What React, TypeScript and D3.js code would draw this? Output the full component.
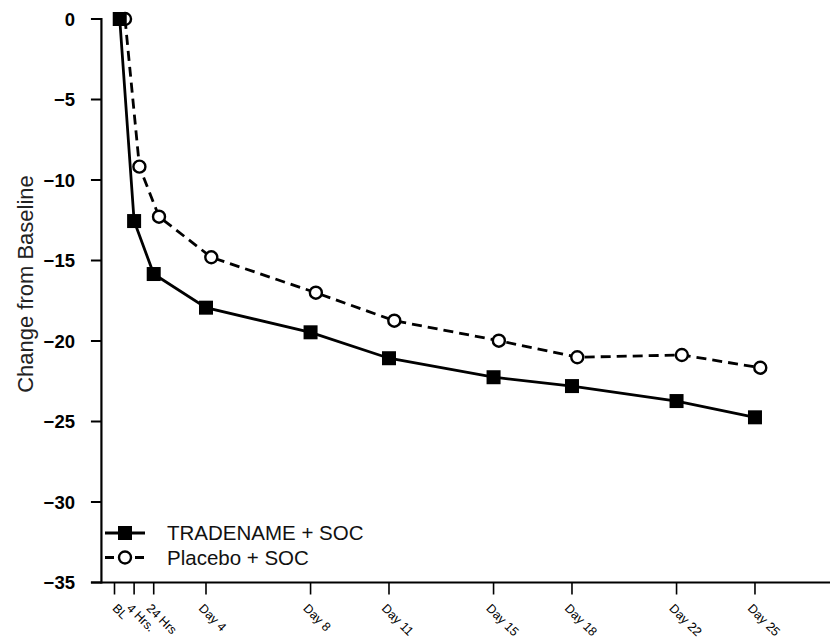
import React from "react";
import * as d3 from "d3";

const timeLabels = ["BL", "4 Hrs.", "24 Hrs", "Day 4", "Day 8", "Day 11", "Day 15", "Day 18", "Day 22", "Day 25"];
const timeX = [0.7, 1.25, 2, 4, 8, 11, 15, 18, 22, 25];
const tickX = [0.5, 1.25, 2, 4, 8, 11, 15, 18, 22, 25];
const tradename = [0, -12.55, -15.84, -17.93, -19.46, -21.07, -22.25, -22.8, -23.73, -24.74];
const placebo = [0, -9.17, -12.28, -14.8, -17.0, -18.74, -19.98, -21.01, -20.87, -21.66];
const yTicks = [0, -5, -10, -15, -20, -25, -30, -35];
const seriesNames = ["TRADENAME + SOC", "Placebo + SOC"];

const W = 830;
const H = 640;
const FONT = "'Liberation Sans', Arial, Helvetica, sans-serif";

export default function App() {
  React.useEffect(() => {
    document.body.style.margin = "0";
  }, []);

  const x = d3.scaleLinear().domain([0, 28]).range([101.43, 833.4]);
  const y = d3.scaleLinear().domain([-35, 0]).range([582.5, 19]);
  const fmt = d3.format("d");
  const circOff = 5.3;

  const lineT = d3
    .line<number>()
    .x((_, i) => x(timeX[i]))
    .y((d) => y(d));
  const lineP = d3
    .line<number>()
    .x((_, i) => x(timeX[i]) + circOff)
    .y((d) => y(d));

  const axisX = x(0);
  const axisY = y(-35);

  return (
    <svg width={W} height={H} style={{ display: "block", background: "#fff" }} fontFamily={FONT}>
      {/* Y axis */}
      <line x1={axisX} x2={axisX} y1={y(0) - 1} y2={axisY + 1} stroke="#000" strokeWidth={2.2} />
      {yTicks.map((t) => (
        <g key={t}>
          <line x1={axisX - 10.5} x2={axisX} y1={y(t)} y2={y(t)} stroke="#000" strokeWidth={2} />
          <text
            x={75}
            y={y(t)}
            dy="0.36em"
            textAnchor="end"
            fontSize={18.5}
            fontWeight={700}
            fill="#000"
          >
            {fmt(t).replace("-", "\u2212")}
          </text>
        </g>
      ))}
      <text
        transform={`translate(33, 284) rotate(-90)`}
        textAnchor="middle"
        fontSize={22}
        fill="#222"
      >
        Change from Baseline
      </text>

      {/* X axis */}
      <line x1={axisX - 10.5} x2={W} y1={axisY} y2={axisY} stroke="#000" strokeWidth={2.2} />
      {tickX.map((t, i) => (
        <line key={"t" + i} x1={x(t)} x2={x(t)} y1={axisY} y2={axisY + 12} stroke="#000" strokeWidth={1.6} />
      ))}
      {timeLabels.map((lab, i) => (
        <text
          key={"l" + i}
          transform={`translate(${x(timeX[i]) - 8}, 609) rotate(45)`}
          fontSize={12.5}
          fill="#000"
        >
          {lab}
        </text>
      ))}

      {/* Lines */}
      <path d={lineP(placebo) || ""} fill="none" stroke="#000" strokeWidth={2.8} strokeDasharray="10,6" />
      <path d={lineT(tradename) || ""} fill="none" stroke="#000" strokeWidth={2.8} />

      {placebo.map((v, i) => (
        <circle key={"c" + i} cx={x(timeX[i]) + circOff} cy={y(v)} r={6} fill="#fff" stroke="#000" strokeWidth={2.4} />
      ))}
      {tradename.map((v, i) => (
        <rect key={"s" + i} x={x(timeX[i]) - 7} y={y(v) - 7} width={14} height={14} fill="#000" />
      ))}

      {/* Legend */}
      <g>
        <line x1={105} x2={145} y1={533} y2={533} stroke="#000" strokeWidth={2.8} />
        <rect x={125 - 7} y={533 - 7} width={14} height={14} fill="#000" />
        <text x={167} y={540} fontSize={20.5} fill="#111">
          {seriesNames[0]}
        </text>
        <line x1={105} x2={144} y1={557.5} y2={557.5} stroke="#000" strokeWidth={2.8} strokeDasharray="9,21,9" />
        <circle cx={125} cy={557.5} r={6} fill="#fff" stroke="#000" strokeWidth={2.4} />
        <text x={167} y={565} fontSize={20.5} fill="#111">
          {seriesNames[1]}
        </text>
      </g>
    </svg>
  );
}
